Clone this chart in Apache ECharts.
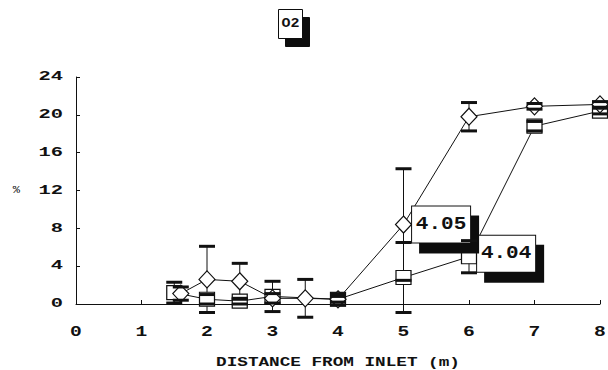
<!DOCTYPE html>
<html>
<head>
<meta charset="utf-8">
<script src="https://cdn.jsdelivr.net/npm/echarts@6/dist/echarts.min.js"></script>
<style>
  html, body { margin: 0; padding: 0; background: #fff; }
  #chart { width: 608px; height: 370px; }
</style>
</head>
<body>
<div id="chart"></div>
<script>
// O2 profile along the reactor: mean % with ± error, two runs
const seriesNames = ['4.05', '4.04'];

// run 4.05 (diamonds)
const runAX = [1.6, 2, 2.5, 3, 3.5, 4, 5, 6, 7, 8];
const runAY = [1.1, 2.6, 2.4, 0.6, 0.6, 0.5, 8.4, 19.8, 20.9, 21.1];
const runAErr = [0.7, 3.5, 1.9, 0.5, 2.0, 0.3, 5.9, 1.5, 0.3, 0.3];

// run 4.04 (squares)
const runBX = [1.5, 2, 2.5, 3, 4, 5, 6, 7, 8];
const runBY = [1.2, 0.5, 0.3, 0.8, 0.5, 2.8, 5.0, 18.8, 20.4];
const runBErr = [1.1, 0.5, 0.3, 1.6, 0.6, 3.7, 1.7, 0.5, 0.3];

// distance at which each run's name tag is attached
const tagAtX = [5, 6];

const xTicks = [0, 1, 2, 3, 4, 5, 6, 7, 8];
const yTicks = [0, 4, 8, 12, 16, 20, 24];

const FONT = "'Liberation Mono', 'DejaVu Sans Mono', monospace";
const INK = '#111';
// horizontal widening of the typewriter-style lettering, keyed by font size
const WIDEN = [[12, 1.7], [14, 1.4], [13, 1.36], [17.5, 1.2], [12.5, 1.2], [10, 1.2]];

function pointsOf(xs, ys, errs) {
  return xs.map((x, i) => [x, ys[i], errs[i]]);
}

function tagLabel(offset) {
  return {
    show: true,
    position: 'right',
    distance: 0,
    offset: offset,
    formatter: '{a}',
    color: INK,
    fontFamily: FONT,
    fontWeight: 'bold',
    fontSize: 17.5,
    lineHeight: 18,
    padding: [9, 8],
    backgroundColor: '#fff',
    borderColor: INK,
    borderWidth: 1,
    shadowColor: INK,
    shadowBlur: 0,
    shadowOffsetX: 8,
    shadowOffsetY: 10
  };
}

function lineData(xs, ys, tagX, offset) {
  return xs.map((x, i) => {
    const item = { value: [x, ys[i]] };
    if (x === tagX) item.label = tagLabel(offset);
    return item;
  });
}

function errStem(params, api) {
  const x = api.value(0), y = api.value(1), e = api.value(2);
  const top = api.coord([x, y + e]);
  const bot = api.coord([x, y - e]);
  return {
    type: 'line',
    shape: { x1: top[0], y1: top[1], x2: bot[0], y2: bot[1] },
    style: { stroke: INK, lineWidth: 1 }
  };
}

function errCaps(params, api) {
  const x = api.value(0), y = api.value(1), e = api.value(2);
  const top = api.coord([x, y + e]);
  const bot = api.coord([x, y - e]);
  const half = 8;
  return {
    type: 'group',
    children: [
      { type: 'line', shape: { x1: top[0] - half, y1: top[1], x2: top[0] + half, y2: top[1] },
        style: { stroke: INK, lineWidth: 3 } },
      { type: 'line', shape: { x1: bot[0] - half, y1: bot[1], x2: bot[0] + half, y2: bot[1] },
        style: { stroke: INK, lineWidth: 3 } }
    ]
  };
}

const errA = pointsOf(runAX, runAY, runAErr);
const errB = pointsOf(runBX, runBY, runBErr);

const chart = echarts.init(document.getElementById('chart'), null, { renderer: 'svg' });

const option = {
  animation: false,
  backgroundColor: '#fff',
  title: {
    text: 'O2',
    left: 278,
    top: 9,
    padding: [8, 5],
    backgroundColor: '#fff',
    borderColor: INK,
    borderWidth: 1,
    shadowColor: INK,
    shadowBlur: 0,
    shadowOffsetX: 7,
    shadowOffsetY: 8,
    textStyle: { fontFamily: FONT, fontWeight: 'bold', fontSize: 12.5, lineHeight: 14, color: INK }
  },
  grid: { left: 76, right: 8, top: 77, bottom: 66, containLabel: false, outerBoundsMode: 'none' },
  xAxis: {
    type: 'value',
    min: xTicks[0],
    max: xTicks[xTicks.length - 1],
    interval: xTicks[1] - xTicks[0],
    name: 'DISTANCE FROM INLET (m)',
    nameLocation: 'middle',
    nameGap: 52,
    nameTextStyle: { fontFamily: FONT, fontWeight: 'bold', fontSize: 13, color: INK },
    axisLine: { lineStyle: { color: INK, width: 1 } },
    axisTick: { inside: true, length: 4, lineStyle: { color: INK } },
    axisLabel: { margin: 21, fontFamily: FONT, fontWeight: 'bold', fontSize: 14, color: INK },
    splitLine: { show: false }
  },
  yAxis: {
    type: 'value',
    min: yTicks[0],
    max: yTicks[yTicks.length - 1],
    interval: yTicks[1] - yTicks[0],
    name: '%',
    nameLocation: 'middle',
    nameRotate: 0,
    nameGap: 56,
    nameTextStyle: { fontFamily: FONT, fontSize: 10, color: INK, padding: [6, 0, 0, 0] },
    axisLine: { show: true, lineStyle: { color: INK, width: 1 } },
    axisTick: { show: true, inside: true, length: 4, lineStyle: { color: INK } },
    axisLabel: { margin: 13, fontFamily: FONT, fontWeight: 'bold', fontSize: 12, color: INK },
    splitLine: { show: false }
  },
  series: [
    { type: 'custom', name: 'stemA', z: 1, data: errA, renderItem: errStem, silent: true },
    { type: 'custom', name: 'stemB', z: 1, data: errB, renderItem: errStem, silent: true },
    {
      type: 'line',
      name: seriesNames[1],
      z: 2,
      data: lineData(runBX, runBY, tagAtX[1], [0, -3]),
      symbol: 'rect',
      symbolSize: [15, 14],
      showAllSymbol: true,
      lineStyle: { color: INK, width: 1 },
      itemStyle: { color: '#fff', borderColor: INK, borderWidth: 1.2 }
    },
    {
      type: 'line',
      name: seriesNames[0],
      z: 2,
      data: lineData(runAX, runAY, tagAtX[0], [0, 0]),
      symbol: 'diamond',
      symbolSize: [16, 17],
      showAllSymbol: true,
      lineStyle: { color: INK, width: 1 },
      itemStyle: { color: '#fff', borderColor: INK, borderWidth: 1.2 }
    },
    { type: 'custom', name: 'capA', z: 3, data: errA, renderItem: errCaps, silent: true },
    { type: 'custom', name: 'capB', z: 3, data: errB, renderItem: errCaps, silent: true }
  ]
};

chart.setOption(option);
chart.getZr().flush();

// widen the lettering horizontally, keeping each text anchored where the axis put it
function widenText() {
  const svg = document.querySelector('#chart svg');
  if (!svg) return;
  svg.querySelectorAll('text').forEach(t => {
    if (t.getAttribute('data-wide')) return;
    const fs = parseFloat(getComputedStyle(t).fontSize);
    let k = 1.3;
    WIDEN.forEach(([size, f]) => { if (Math.abs(size - fs) < 0.01) k = f; });
    const b = t.getBBox();
    const anchor = t.getAttribute('text-anchor');
    const cx = anchor === 'end' ? b.x + b.width : b.x + b.width / 2;
    const prev = t.getAttribute('transform') || '';
    t.setAttribute('transform', prev + ' translate(' + cx + ' 0) scale(' + k + ' 1) translate(' + (-cx) + ' 0)');
    t.setAttribute('data-wide', '1');
  });
}
widenText();
chart.on('finished', widenText);
</script>
</body>
</html>
